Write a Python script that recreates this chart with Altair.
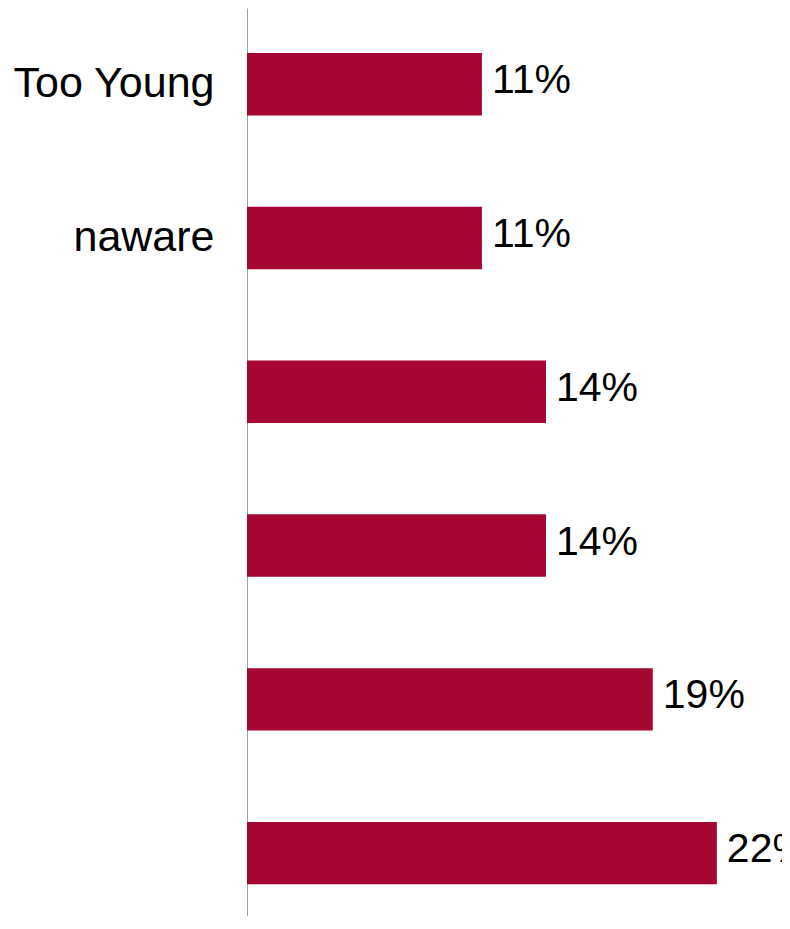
import altair as alt
import pandas as pd

categories = ["Too Young", "naware", "r3", "r4", "r5", "r6"]
shown_labels = ["Too Young", "naware", "", "", "", ""]
values = [0.11, 0.11, 0.14, 0.14, 0.19, 0.22]
value_text = ["11%", "11%", "14%", "14%", "19%", "22%"]

df = pd.DataFrame({"cat": categories, "label": shown_labels, "v": values, "t": value_text})

label_map = "{" + ",".join(f'"{c}":"{l}"' for c, l in zip(categories, shown_labels)) + "}"

y = alt.Y(
    "cat:N",
    sort=categories,
    title=None,
    scale=alt.Scale(paddingInner=0.594, paddingOuter=0.249, align=0.587),
    axis=alt.Axis(
        labelExpr=f"{label_map}[datum.value]",
        ticks=False,
        grid=False,
        domainColor="#a0a0a0",
        domainWidth=1,
        labelFont="Liberation Sans",
        labelFontSize=43,
        labelColor="#000000",
        labelPadding=33,
        labelLimit=400,
    ),
)
x = alt.X("v:Q", scale=alt.Scale(domain=[0, 0.2505], nice=False, zero=True), axis=None, title=None)

bars = alt.Chart(df).mark_bar(color="#A50632").encode(x=x, y=y)
text = alt.Chart(df).mark_text(
    align="left", baseline="middle", dx=10, dy=-3, font="Liberation Sans", fontSize=41, color="#000000", clip=True
).encode(x=x, y=y, text="t:N")

chart = (
    alt.layer(bars, text)
    .properties(
        width=535,
        height=908,
        autosize=alt.AutoSizeParams(type="none"),
        padding={"left": 239, "top": 0, "right": 0, "bottom": 0},
        view=alt.ViewBackground(stroke="transparent", strokeWidth=0, strokeOpacity=0),
    )
    .configure_view(strokeWidth=0, stroke="transparent", strokeOpacity=0)
    .configure(background="white")
)

chart.save("out.html", embed_options={"renderer": "svg", "actions": False})
